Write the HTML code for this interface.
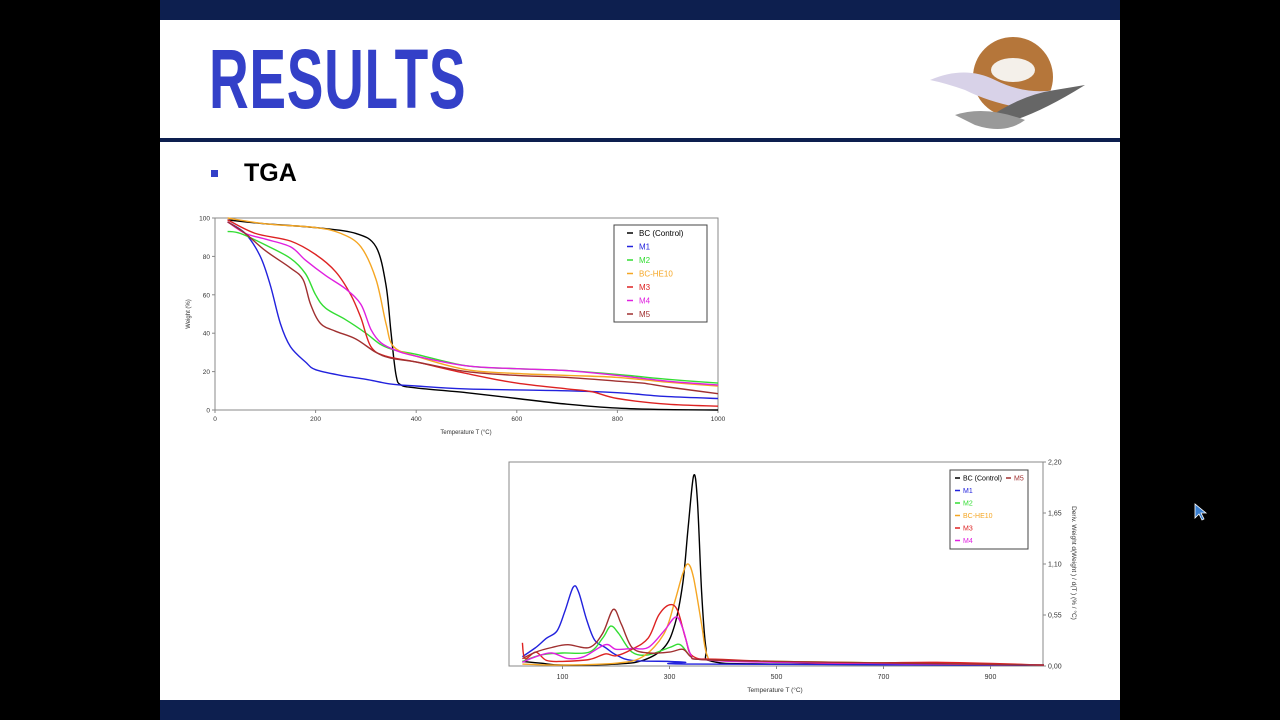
<!DOCTYPE html>
<html><head><meta charset="utf-8">
<style>
html,body{margin:0;padding:0;background:#000;}
#slide{position:absolute;left:160px;top:0;width:960px;height:720px;background:#fff;overflow:hidden;font-family:"Liberation Sans",sans-serif;}
svg text{font-family:"Liberation Sans",sans-serif;}
</style></head>
<body>
<div id="slide">
 <div style="position:absolute;left:0;top:0;width:960px;height:20px;background:#0d1f4f"></div>
 <div style="position:absolute;left:49px;top:34px;font-size:84px;font-weight:bold;color:#3340c8;transform:scaleX(0.655);transform-origin:left top;letter-spacing:1px;line-height:90px">RESULTS</div>
 <svg style="position:absolute;left:765px;top:35px" width="170" height="100">
  <circle cx="88" cy="42" r="40" fill="#b5763a"/>
  <ellipse cx="88" cy="35" rx="22" ry="12" fill="#f4f0ea"/>
  <path d="M5 45 Q40 30 70 45 T130 55 L110 75 Q70 70 40 55 Q20 48 5 45Z" fill="#d8d2e8"/>
  <path d="M60 85 Q95 60 130 55 L160 50 Q120 75 90 85 Q70 95 60 85Z" fill="#666"/>
  <path d="M30 80 Q60 70 100 85 Q80 100 50 90Z" fill="#999"/>
 </svg>
 <div style="position:absolute;left:0;top:138px;width:960px;height:4px;background:#0d1f4f"></div>
 <div style="position:absolute;left:51px;top:170px;width:7px;height:7px;background:#3340c8"></div>
 <div style="position:absolute;left:84px;top:159px;font-size:25px;font-weight:bold;color:#000">TGA</div>
 <div style="position:absolute;left:0;top:700px;width:960px;height:20px;background:#0d1f4f"></div>
</div>
<svg id="charts" width="1280" height="720" style="position:absolute;left:0;top:0">
 <g id="tga"></g>
 <g id="dtg"></g>
</svg>
<svg style="position:absolute;left:1194px;top:503px" width="14" height="18"><path d="M1 1 L1 15 L5 11 L8 17 L10 16 L7 10 L12 10Z" fill="#3a7fd0" stroke="#fff" stroke-width="0.8"/></svg>
<script>
const seriesNames=["BC (Control)","M1","M2","BC-HE10","M3","M4","M5"];
const seriesColors=["#000000","#2222dd","#33dd33","#f5a623","#dd2222","#e020e0","#a03030"];
const tgaTicksX=[0,200,400,600,800,1000];
const tgaTicksY=[0,20,40,60,80,100];
const tgaBC=[[25,99],[100,97],[200,95],[280,92],[320,85],[340,65],[350,40],[360,18],[370,13],[400,11.5],[500,9],[600,6],[700,3],[800,1],[900,0.2],[1000,0]];
const tgaM1=[[25,98],[60,92],[90,80],[110,65],[130,45],[150,33],[180,25],[200,21],[250,18],[300,16],[350,13.5],[400,12.5],[500,11],[700,10],[800,9],[900,7],[1000,6]];
const tgaM2=[[25,93],[50,92],[100,86],[150,79],[180,71],[200,60],[220,53],[260,47],[300,40],[330,34],[360,31],[400,29],[500,23],[600,21.5],[700,20.5],[800,18.5],[900,16],[1000,14]];
const tgaHE10=[[25,100],[100,97],[200,95],[250,92],[290,85],[320,68],[340,45],[355,33],[400,28],[500,21],[600,19],[700,18],[800,17],[900,14.5],[1000,12.5]];
const tgaM3=[[25,99],[80,92],[150,88],[200,81],[240,72],[270,60],[290,48],[310,33],[340,28],[400,25],[500,19],[600,14],[700,11],[750,9.5],[800,6],[900,3],[1000,2]];
const tgaM4=[[25,98],[60,92],[100,89],[150,85],[180,78],[220,70],[260,63],[290,55],[310,42],[330,35],[360,31],[400,28],[500,23],[600,21.5],[700,20.5],[800,18],[900,15],[1000,13]];
const tgaM5=[[25,98],[60,92],[100,83],[150,74],[175,68],[190,55],[210,45],[240,41],[280,37],[320,30],[350,27],[400,25],[500,20],[600,18],[700,17],[800,15],[850,14],[900,12],[1000,8.5]];
const dtgTicksX=[100,300,500,700,900];
const dtgTicksY=[0,0.55,1.10,1.65,2.20];
const dtgTickLabels=["0,00","0,55","1,10","1,65","2,20"];
const dtgBC=[[25,0.05],[60,0.03],[100,0.01],[200,0.02],[250,0.06],[290,0.2],[310,0.45],[325,0.9],[335,1.5],[345,2.05],[352,1.8],[360,0.8],[368,0.2],[380,0.05],[500,0.02],[1000,0.01]];
const dtgM1=[[25,0.1],[50,0.2],[70,0.3],[90,0.38],[105,0.6],[120,0.85],[130,0.8],[145,0.5],[160,0.28],[180,0.2],[200,0.12],[230,0.06],[300,0.05],[330,0.04],[350,0.02],[1000,0.01]];
const dtgM2=[[25,0.05],[60,0.12],[100,0.14],[150,0.15],[175,0.3],[190,0.43],[205,0.35],[230,0.15],[260,0.12],[300,0.2],[320,0.23],[340,0.1],[360,0.07],[500,0.05],[1000,0.01]];
const dtgHE10=[[25,0.02],[100,0.01],[200,0.03],[250,0.1],[290,0.35],[310,0.7],[325,1.0],[335,1.1],[345,0.95],[360,0.45],[370,0.12],[390,0.06],[500,0.05],[1000,0.01]];
const dtgM3=[[25,0.25],[30,0.08],[50,0.15],[70,0.06],[100,0.05],[150,0.07],[180,0.13],[200,0.11],[230,0.18],[260,0.3],[280,0.55],[300,0.66],[315,0.6],[330,0.3],[345,0.1],[400,0.07],[600,0.03],[800,0.04],[1000,0.01]];
const dtgM4=[[25,0.04],[50,0.1],[80,0.14],[110,0.08],[140,0.1],[180,0.23],[200,0.18],[230,0.19],[260,0.2],[290,0.38],[312,0.53],[325,0.4],[340,0.12],[360,0.07],[500,0.04],[1000,0.01]];
const dtgM5=[[25,0.08],[50,0.15],[80,0.2],[110,0.23],[150,0.2],[175,0.35],[195,0.61],[210,0.45],[230,0.2],[260,0.14],[300,0.15],[325,0.18],[340,0.1],[360,0.07],[500,0.05],[1000,0.01]];
const tgaData=[tgaBC,tgaM1,tgaM2,tgaHE10,tgaM3,tgaM4,tgaM5];
const dtgData=[dtgBC,dtgM1,dtgM2,dtgHE10,dtgM3,dtgM4,dtgM5];
const NS="http://www.w3.org/2000/svg";
function mk(parent,tag,attrs,txt){const e=document.createElementNS(NS,tag);for(const k in attrs)e.setAttribute(k,attrs[k]);if(txt!==undefined)e.textContent=txt;parent.appendChild(e);return e;}
function curve(pts){let d="M"+pts[0][0].toFixed(1)+" "+pts[0][1].toFixed(1);
 for(let i=0;i<pts.length-1;i++){const p0=pts[Math.max(0,i-1)],p1=pts[i],p2=pts[i+1],p3=pts[Math.min(pts.length-1,i+2)];
  const c1x=p1[0]+(p2[0]-p0[0])/6,c1y=p1[1]+(p2[1]-p0[1])/6,c2x=p2[0]-(p3[0]-p1[0])/6,c2y=p2[1]-(p3[1]-p1[1])/6;
  d+=" C"+c1x.toFixed(1)+" "+c1y.toFixed(1)+" "+c2x.toFixed(1)+" "+c2y.toFixed(1)+" "+p2[0].toFixed(1)+" "+p2[1].toFixed(1);}
 return d;}
(function(){
 const g=document.getElementById('tga');
 const L=215,R=718,T=218,B=410;
 const x=v=>L+(R-L)*v/1000, y=v=>B-(B-T)*v/100;
 let e=mk(g,'rect',{x:L,y:T,width:R-L,height:B-T,fill:'#fff',stroke:'#888','stroke-width':1});
 
 tgaTicksX.forEach(v=>{mk(g,'line',{x1:x(v),x2:x(v),y1:B,y2:B+3,stroke:'#888'});
  e=mk(g,'text',{x:x(v),y:B+11,'font-size':6.5,'text-anchor':'middle',fill:'#333'},v);
  });
 tgaTicksY.forEach(v=>{mk(g,'line',{x1:L-3,x2:L,y1:y(v),y2:y(v),stroke:'#888'});
  e=mk(g,'text',{x:L-5,y:y(v)+2.5,'font-size':6.5,'text-anchor':'end',fill:'#333'},v);
  });
 e=mk(g,'text',{x:466,y:434,'font-size':6,'text-anchor':'middle',fill:'#333'},'Temperature T (°C)');
 
 e=mk(g,'text',{x:190,y:314,'font-size':6,'text-anchor':'middle',fill:'#333',transform:'rotate(-90 190 314)'},'Weight (%)');
 
 tgaData.forEach((s,i)=>{e=mk(g,'path',{d:curve(s.map(p=>[x(p[0]),y(p[1])])),fill:'none',stroke:seriesColors[i],'stroke-width':1.4});
  });
 e=mk(g,'rect',{x:614,y:225,width:93,height:97,fill:'#fff',stroke:'#444','stroke-width':1});
 
 seriesNames.forEach((n,i)=>{const yy=233+i*13.5;mk(g,'line',{x1:627,x2:633,y1:yy,y2:yy,stroke:seriesColors[i],'stroke-width':1.5});
  e=mk(g,'text',{x:639,y:yy+3,'font-size':8,fill:i==0?'#000':seriesColors[i]},n);
  });
})();
(function(){
 const g=document.getElementById('dtg');
 const L=509,R=1043,T=462,B=666;
 const x=v=>L+0.535*v, y=v=>B-(B-T)*v/2.2;
 let e=mk(g,'rect',{x:L,y:T,width:R-L,height:B-T,fill:'#fff',stroke:'#888','stroke-width':1});
 
 dtgTicksX.forEach(v=>{mk(g,'line',{x1:x(v),x2:x(v),y1:B,y2:B+3,stroke:'#888'});
  e=mk(g,'text',{x:x(v),y:B+13,'font-size':7,'text-anchor':'middle',fill:'#333'},v);
  });
 dtgTicksY.forEach((v,i)=>{mk(g,'line',{x1:R,x2:R+3,y1:y(v),y2:y(v),stroke:'#888'});
  e=mk(g,'text',{x:R+5,y:y(v)+2.5,'font-size':7,fill:'#333'},dtgTickLabels[i]);
  });
 e=mk(g,'text',{x:775,y:692,'font-size':6.5,'text-anchor':'middle',fill:'#333'},'Temperature T (°C)');
 
 e=mk(g,'text',{x:1072,y:563,'font-size':6.5,'text-anchor':'middle',fill:'#333',transform:'rotate(90 1072 563)'},'Deriv. Weight d(Weight ) / d(T ) (% / °C)');
 
 dtgData.forEach((s,i)=>{e=mk(g,'path',{d:curve(s.map(p=>[x(p[0]),y(p[1])])),fill:'none',stroke:seriesColors[i],'stroke-width':1.4});
  });
 e=mk(g,'rect',{x:950,y:470,width:78,height:79,fill:'#fff',stroke:'#444','stroke-width':1});
 
 seriesNames.forEach((n,i)=>{let xx=955,yy=478+i*12.5;if(i==6){xx=1006;yy=478;}
  mk(g,'line',{x1:xx,x2:xx+5,y1:yy,y2:yy,stroke:seriesColors[i],'stroke-width':1.5});
  e=mk(g,'text',{x:xx+8,y:yy+2.5,'font-size':7,fill:i==0?'#000':seriesColors[i]},n);
  });
})();
</script>
</body></html>
